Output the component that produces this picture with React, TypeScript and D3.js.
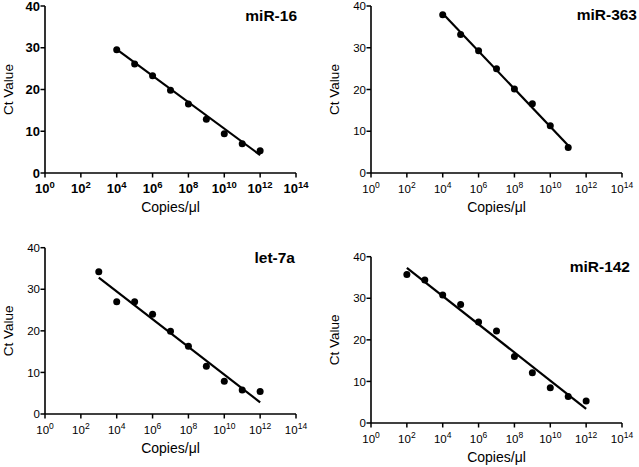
import React from "react";
import * as d3 from "d3";

// ---- data (x as log10 copies/µl, y as Ct value) ----
const mir16Exp = [4, 5, 6, 7, 8, 9, 10, 11, 12];
const mir16Ct = [29.5, 26.1, 23.3, 19.8, 16.5, 12.9, 9.4, 7.0, 5.3];
const mir16Fit = [[4, 29.6], [12, 4.3]];

const mir363Exp = [4, 5, 6, 7, 8, 9, 10, 11];
const mir363Ct = [37.9, 33.2, 29.3, 25.0, 20.1, 16.6, 11.3, 6.1];
const mir363Fit = [[4, 38.2], [11, 6.6]];

const let7aExp = [3, 4, 5, 6, 7, 8, 9, 10, 11, 12];
const let7aCt = [34.2, 27.0, 27.0, 24.0, 19.9, 16.3, 11.5, 7.9, 5.8, 5.4];
const let7aFit = [[3, 32.8], [12, 2.8]];

const mir142Exp = [2, 3, 4, 5, 6, 7, 8, 9, 10, 11, 12];
const mir142Ct = [35.7, 34.4, 30.8, 28.5, 24.3, 22.1, 16.0, 12.1, 8.5, 6.4, 5.3];
const mir142Fit = [[2, 37.3], [12, 3.4]];

const titles = ["miR-16", "miR-363", "let-7a", "miR-142"];
const xTickExps = [0, 2, 4, 6, 8, 10, 12, 14];
const yTicks = [0, 10, 20, 30, 40];
const yLabel = "Ct Value";
const xLabel = "Copies/μl";

// ---- layout ----
const layouts = [
  { left: 45, right: 296, top: 6, bottom: 173, bold: true, titleX: 297, titleY: 21 },
  { left: 371, right: 622, top: 6, bottom: 173, bold: false, titleX: 637, titleY: 20 },
  { left: 45, right: 296, top: 247.7, bottom: 414, bold: false, titleX: 295, titleY: 262.5 },
  { left: 371, right: 622, top: 256.7, bottom: 423, bold: false, titleX: 630, titleY: 271.5 },
];

const datasets = [
  { exp: mir16Exp, ct: mir16Ct, fit: mir16Fit },
  { exp: mir363Exp, ct: mir363Ct, fit: mir363Fit },
  { exp: let7aExp, ct: let7aCt, fit: let7aFit },
  { exp: mir142Exp, ct: mir142Ct, fit: mir142Fit },
];

const FONT = "Liberation Sans, Arial, Helvetica, sans-serif";

function Panel({ idx }: { idx: number }) {
  const L = layouts[idx];
  const D = datasets[idx];
  const x = d3.scaleLog().domain([1, 1e14]).range([L.left, L.right]);
  const y = d3.scaleLinear().domain([0, 40]).range([L.bottom, L.top]);
  const tickSize = L.bold ? 13 : 11.5;
  const supSize = L.bold ? 9.5 : 8.5;
  const fw = L.bold ? "bold" : "normal";
  const line = d3
    .line<number[]>()
    .x((d) => x(Math.pow(10, d[0])))
    .y((d) => y(d[1]));
  const midY = (L.top + L.bottom) / 2;
  const midX = (L.left + L.right) / 2;
  return (
    <g fontFamily={FONT} fill="#000">
      <line x1={L.left} x2={L.left} y1={L.top} y2={L.bottom} stroke="#000" strokeWidth={1.6} />
      <line x1={L.left} x2={L.right} y1={L.bottom} y2={L.bottom} stroke="#000" strokeWidth={1.6} />
      {yTicks.map((t) => (
        <g key={"y" + t}>
          <line x1={L.left - 4.5} x2={L.left} y1={y(t)} y2={y(t)} stroke="#000" strokeWidth={1.5} />
          <text
            x={L.left - 5}
            y={y(t)}
            dy="0.36em"
            textAnchor="end"
            fontSize={tickSize}
            fontWeight={fw}
          >
            {t}
          </text>
        </g>
      ))}
      {xTickExps.map((e) => {
        const px = x(Math.pow(10, e));
        return (
          <g key={"x" + e}>
            <line x1={px} x2={px} y1={L.bottom} y2={L.bottom + 4.5} stroke="#000" strokeWidth={1.5} />
            <text
              x={px}
              y={L.bottom + 20}
              textAnchor="middle"
              fontSize={tickSize}
              fontWeight={fw}
            >
              10
              <tspan fontSize={supSize} dy={-5}>
                {e}
              </tspan>
            </text>
          </g>
        );
      })}
      <text
        transform={`translate(${L.left - 32},${midY}) rotate(-90)`}
        textAnchor="middle"
        fontSize={13.5}
      >
        {yLabel}
      </text>
      <text x={midX} y={L.bottom + 39} textAnchor="middle" fontSize={14}>
        {xLabel}
      </text>
      <text x={L.titleX} y={L.titleY} textAnchor="end" fontSize={15.5} fontWeight="bold">
        {titles[idx]}
      </text>
      <path d={line(D.fit) || ""} stroke="#000" strokeWidth={2.2} fill="none" />
      {D.exp.map((e, i) => (
        <circle key={"p" + i} cx={x(Math.pow(10, e))} cy={y(D.ct[i])} r={3.5} fill="#000" />
      ))}
    </g>
  );
}

export default function App() {
  return (
    <svg
      width={639}
      height={467}
      style={{ position: "absolute", left: 0, top: 0, background: "#fff" }}
    >
      <rect width={639} height={467} fill="#fff" />
      {[0, 1, 2, 3].map((i) => (
        <Panel key={i} idx={i} />
      ))}
    </svg>
  );
}
